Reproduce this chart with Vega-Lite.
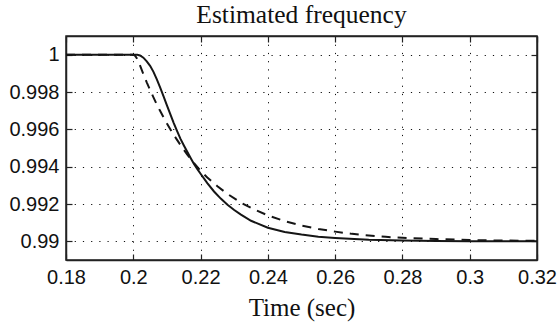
{
  "$schema": "https://vega.github.io/schema/vega-lite/v6.json",
  "width": 471,
  "height": 224,
  "autosize": "none",
  "padding": {"left": 66, "top": 36, "right": 22, "bottom": 64},
  "background": "white",
  "title": {
    "text": "Estimated frequency",
    "font": "Liberation Serif",
    "fontSize": 25.5,
    "fontWeight": "normal",
    "color": "#111",
    "baseline": "bottom",
    "offset": -18,
    "anchor": "middle",
    "frame": "group"
  },
  "config": {
    "view": {"stroke": "#222", "strokeWidth": 1.5},
    "axis": {
      "labelFont": "Liberation Sans",
      "labelFontSize": 20,
      "labelColor": "#111",
      "labelFlush": false,
      "labelOverlap": false,
      "titleFont": "Liberation Serif",
      "titleFontSize": 25,
      "titleFontWeight": "normal",
      "titleColor": "#111",
      "domainColor": "#222",
      "domainWidth": 1.5,
      "tickColor": "#222",
      "tickWidth": 1.2,
      "tickSize": -6,
      "gridColor": "#111",
      "gridDash": [1.2, 7],
      "gridWidth": 1,
      "gridOpacity": 1
    }
  },
  "data": {
    "values": [
      {"t": 0.18, "f": 1, "s": "solid"},
      {"t": 0.19, "f": 1, "s": "solid"},
      {"t": 0.2, "f": 1, "s": "solid"},
      {"t": 0.2012, "f": 1, "s": "solid"},
      {"t": 0.202, "f": 0.99996, "s": "solid"},
      {"t": 0.203, "f": 0.99984, "s": "solid"},
      {"t": 0.204, "f": 0.99964, "s": "solid"},
      {"t": 0.205, "f": 0.9994, "s": "solid"},
      {"t": 0.206, "f": 0.99908, "s": "solid"},
      {"t": 0.207, "f": 0.99868, "s": "solid"},
      {"t": 0.208, "f": 0.99823, "s": "solid"},
      {"t": 0.209, "f": 0.99776, "s": "solid"},
      {"t": 0.21, "f": 0.99728, "s": "solid"},
      {"t": 0.211, "f": 0.99681, "s": "solid"},
      {"t": 0.212, "f": 0.99635, "s": "solid"},
      {"t": 0.213, "f": 0.99592, "s": "solid"},
      {"t": 0.214, "f": 0.9955, "s": "solid"},
      {"t": 0.215, "f": 0.99515, "s": "solid"},
      {"t": 0.216, "f": 0.99481, "s": "solid"},
      {"t": 0.217, "f": 0.99448, "s": "solid"},
      {"t": 0.218, "f": 0.99416, "s": "solid"},
      {"t": 0.219, "f": 0.99388, "s": "solid"},
      {"t": 0.22, "f": 0.99362, "s": "solid"},
      {"t": 0.222, "f": 0.99312, "s": "solid"},
      {"t": 0.224, "f": 0.99267, "s": "solid"},
      {"t": 0.226, "f": 0.99229, "s": "solid"},
      {"t": 0.228, "f": 0.99196, "s": "solid"},
      {"t": 0.23, "f": 0.99168, "s": "solid"},
      {"t": 0.232, "f": 0.99143, "s": "solid"},
      {"t": 0.235, "f": 0.9911, "s": "solid"},
      {"t": 0.24, "f": 0.99073, "s": "solid"},
      {"t": 0.245, "f": 0.9905, "s": "solid"},
      {"t": 0.25, "f": 0.99036, "s": "solid"},
      {"t": 0.255, "f": 0.99025, "s": "solid"},
      {"t": 0.26, "f": 0.99018, "s": "solid"},
      {"t": 0.27, "f": 0.99008, "s": "solid"},
      {"t": 0.28, "f": 0.99004, "s": "solid"},
      {"t": 0.29, "f": 0.99002, "s": "solid"},
      {"t": 0.3, "f": 0.99001, "s": "solid"},
      {"t": 0.32, "f": 0.99, "s": "solid"},
      {"t": 0.18, "f": 1, "s": "dashed"},
      {"t": 0.2, "f": 1, "s": "dashed"},
      {"t": 0.2005, "f": 0.99995, "s": "dashed"},
      {"t": 0.201, "f": 0.99982, "s": "dashed"},
      {"t": 0.202, "f": 0.99942, "s": "dashed"},
      {"t": 0.203, "f": 0.99896, "s": "dashed"},
      {"t": 0.204, "f": 0.99852, "s": "dashed"},
      {"t": 0.205, "f": 0.99811, "s": "dashed"},
      {"t": 0.206, "f": 0.99771, "s": "dashed"},
      {"t": 0.207, "f": 0.99733, "s": "dashed"},
      {"t": 0.208, "f": 0.99698, "s": "dashed"},
      {"t": 0.209, "f": 0.99664, "s": "dashed"},
      {"t": 0.21, "f": 0.99631, "s": "dashed"},
      {"t": 0.212, "f": 0.99571, "s": "dashed"},
      {"t": 0.214, "f": 0.99517, "s": "dashed"},
      {"t": 0.216, "f": 0.99466, "s": "dashed"},
      {"t": 0.218, "f": 0.9942, "s": "dashed"},
      {"t": 0.22, "f": 0.99378, "s": "dashed"},
      {"t": 0.222, "f": 0.99342, "s": "dashed"},
      {"t": 0.225, "f": 0.99295, "s": "dashed"},
      {"t": 0.228, "f": 0.99254, "s": "dashed"},
      {"t": 0.232, "f": 0.99207, "s": "dashed"},
      {"t": 0.236, "f": 0.9917, "s": "dashed"},
      {"t": 0.24, "f": 0.99139, "s": "dashed"},
      {"t": 0.245, "f": 0.99108, "s": "dashed"},
      {"t": 0.25, "f": 0.99084, "s": "dashed"},
      {"t": 0.255, "f": 0.99066, "s": "dashed"},
      {"t": 0.26, "f": 0.99052, "s": "dashed"},
      {"t": 0.265, "f": 0.9904, "s": "dashed"},
      {"t": 0.27, "f": 0.99031, "s": "dashed"},
      {"t": 0.275, "f": 0.99024, "s": "dashed"},
      {"t": 0.28, "f": 0.99019, "s": "dashed"},
      {"t": 0.29, "f": 0.99012, "s": "dashed"},
      {"t": 0.3, "f": 0.99007, "s": "dashed"},
      {"t": 0.31, "f": 0.99004, "s": "dashed"},
      {"t": 0.32, "f": 0.99003, "s": "dashed"}
    ]
  },
  "layer": [
    {
      "transform": [{"filter": "datum.s === 'solid'"}],
      "mark": {"type": "line", "color": "#151515", "strokeWidth": 2, "clip": true},
      "encoding": {
        "x": {
          "field": "t", "type": "quantitative",
          "scale": {"domain": [0.18, 0.32], "nice": false, "zero": false},
          "axis": {
            "orient": "bottom",
            "title": "Time (sec)",
            "values": [0.18, 0.2, 0.22, 0.24, 0.26, 0.28, 0.3, 0.32],
            "format": "~g",
            "grid": true,
            "labelBaseline": "alphabetic",
            "labelPadding": 29,
            "titleBaseline": "alphabetic",
            "titleY": 55
          }
        },
        "y": {
          "field": "f", "type": "quantitative",
          "scale": {"domain": [0.989, 1.001], "nice": false, "zero": false},
          "axis": {
            "orient": "left",
            "title": null,
            "values": [0.99, 0.992, 0.994, 0.996, 0.998, 1],
            "format": "~g",
            "grid": true,
            "labelPadding": 13
          }
        }
      }
    },
    {
      "transform": [{"filter": "datum.s === 'dashed'"}],
      "mark": {"type": "line", "color": "#151515", "strokeWidth": 2, "strokeDash": [9, 7], "strokeCap": "butt", "clip": true},
      "encoding": {
        "x": {
          "field": "t", "type": "quantitative",
          "scale": {"domain": [0.18, 0.32], "nice": false, "zero": false},
          "axis": {
            "orient": "top",
            "title": null,
            "values": [0.18, 0.2, 0.22, 0.24, 0.26, 0.28, 0.3, 0.32],
            "labels": false,
            "grid": false
          }
        },
        "y": {
          "field": "f", "type": "quantitative",
          "scale": {"domain": [0.989, 1.001], "nice": false, "zero": false},
          "axis": {
            "orient": "right",
            "title": null,
            "values": [0.99, 0.992, 0.994, 0.996, 0.998, 1],
            "labels": false,
            "grid": false
          }
        }
      }
    }
  ],
  "resolve": {"axis": {"x": "independent", "y": "independent"}}
}
